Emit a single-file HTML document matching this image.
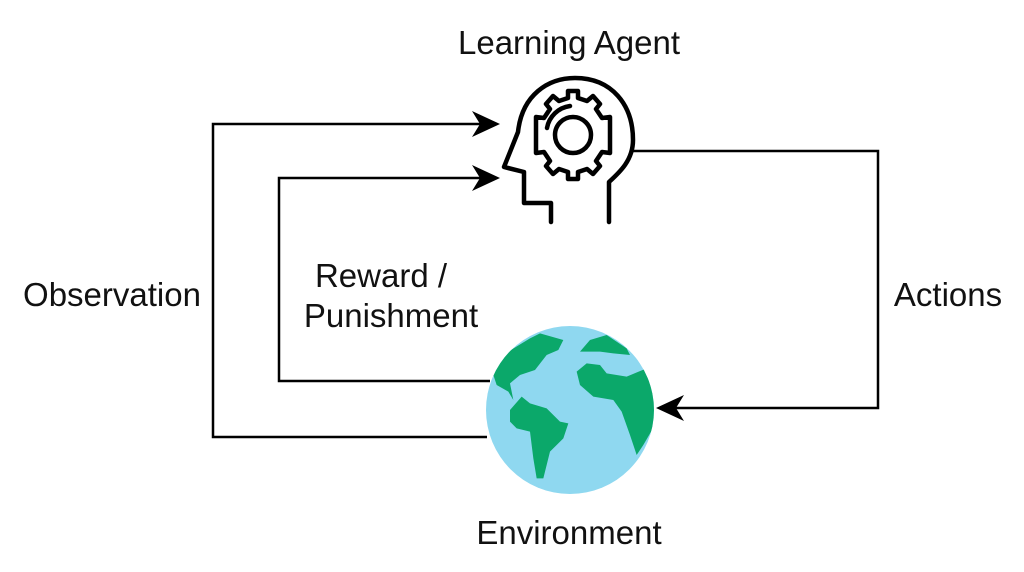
<!DOCTYPE html>
<html><head><style>
html,body{margin:0;padding:0;background:#fff;}
svg{display:block;}
text{font-family:"Liberation Sans",Arial,sans-serif;font-size:33px;fill:#111;}
</style></head><body>
<svg width="1024" height="572" viewBox="0 0 1024 572">
<defs>
<clipPath id="gc"><circle cx="270" cy="255" r="252"/></clipPath>
</defs>
<g fill="none" stroke="#000" stroke-width="2.5">
<path d="M487,437 H213 V124 H497" />
<path d="M490,381 H279 V178 H497" />
<path d="M632,151 H878 V408 H660" />
</g>
<path d="M472,111 L500,124 L472,137 L480,124 Z" fill="#000"/>
<path d="M472,165 L500,178 L472,191 L480,178 Z" fill="#000"/>
<path d="M684,395 L656,408 L684,421 L676,408 Z" fill="#000"/>
<!-- head -->
<g fill="none" stroke="#000" stroke-width="4.5" stroke-linejoin="round" stroke-linecap="round">
<path d="M551,222 V203 H524 V172 L504,167 L518,132 C522,95 548,78 575,78 C612,78 633,105 633,140 C633,160 620,172 609,182 V222"/>
<circle cx="573" cy="135" r="18"/>
<path d="M547,128 A27,27 0 0 1 570,106"/>
</g>
<g transform="translate(573,135)" fill="none" stroke="#000" stroke-width="4.5" stroke-linejoin="round">
<path d="M-5,-44 H5 V-37 L14,-34 L20,-39 L27,-31 L23,-26 L29,-17 L37,-18 V-8 L37,8 V18 L29,17 L23,26 L27,31 L20,39 L14,34 L5,37 V44 H-5 V37 L-14,34 L-20,39 L-27,31 L-23,26 L-29,17 L-37,18 V8 L-37,-8 V-18 L-29,-17 L-23,-26 L-27,-31 L-20,-39 L-14,-34 L-5,-37 Z"/>
</g>
<!-- globe -->
<g transform="translate(480,325) scale(0.3333)">
<circle cx="270" cy="255" r="252" fill="#8fd8f0"/>
<g clip-path="url(#gc)" fill="#0ba86a">
<path d="M40,150 L60,95 L150,40 L180,25 L250,45 L235,75 L200,90 L165,135 L120,150 L90,175 L100,225 L85,200 L50,180 Z"/>
<path d="M90,255 L125,215 L150,235 L200,250 L240,290 L265,295 L250,340 L210,380 L190,460 L170,460 L160,400 L150,320 L110,310 L90,290 Z"/>
<path d="M300,80 L330,45 L380,30 L440,70 L450,90 L400,85 L360,80 Z"/>
<path d="M290,140 L320,115 L360,120 L380,145 L440,155 L500,130 L530,160 L525,300 L490,360 L470,390 L450,330 L425,260 L400,225 L340,215 L300,180 Z"/>
</g>
</g>
<text x="569" y="54" text-anchor="middle">Learning Agent</text>
<text x="112" y="306" text-anchor="middle">Observation</text>
<text x="948" y="306" text-anchor="middle">Actions</text>
<text x="381" y="287" text-anchor="middle">Reward /</text>
<text x="391" y="327" text-anchor="middle">Punishment</text>
<text x="569" y="544" text-anchor="middle">Environment</text>
</svg>
</body></html>
